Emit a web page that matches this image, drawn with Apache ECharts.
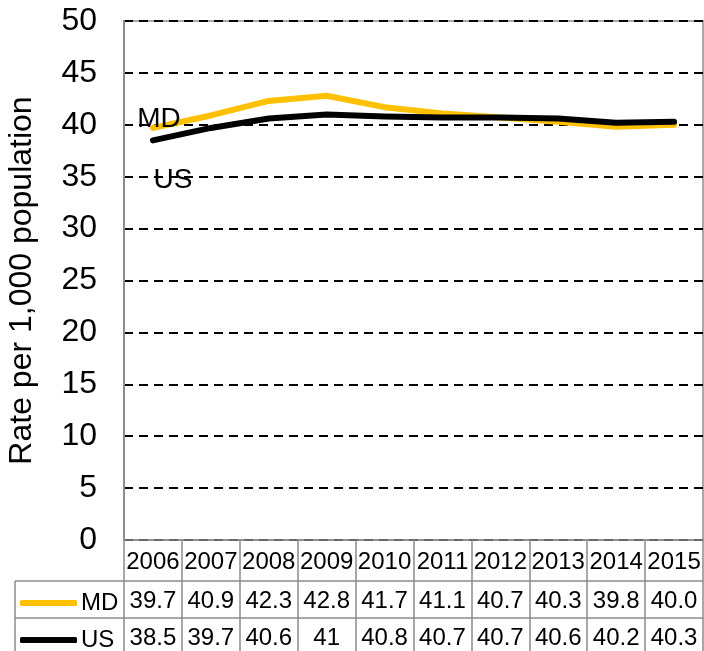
<!DOCTYPE html>
<html>
<head>
<meta charset="utf-8">
<script src="https://cdn.jsdelivr.net/npm/echarts@6/dist/echarts.min.js"></script>
<style>
  html, body { margin: 0; padding: 0; background: #fff; }
  #chart { width: 704px; height: 651px; }
</style>
</head>
<body>
<div id="chart"></div>
<script>
const years = ['2006', '2007', '2008', '2009', '2010', '2011', '2012', '2013', '2014', '2015'];
const mdRates = [39.7, 40.9, 42.3, 42.8, 41.7, 41.1, 40.7, 40.3, 39.8, 40.0];
const usRates = [38.5, 39.7, 40.6, 41, 40.8, 40.7, 40.7, 40.6, 40.2, 40.3];
const mdColor = '#FFC000';
const usColor = '#000000';
const border = '#8c8c8c';
const font = 'Liberation Sans, Arial, sans-serif';

const chart = echarts.init(document.getElementById('chart'));

// one x axis per table row: years, MD values, US values
function tableAxis(offset, rowHeight, margin, fmt) {
  return {
    type: 'category',
    data: years,
    position: 'bottom',
    offset: offset,
    boundaryGap: true,
    axisLine: { show: true, lineStyle: { color: border, width: 1.5 } },
    axisTick: { show: true, length: rowHeight, alignWithLabel: false, lineStyle: { color: border, width: 1.5 } },
    axisLabel: { margin: margin, fontSize: 24, color: '#000', fontFamily: font, interval: 0, formatter: fmt },
    splitLine: { show: false }
  };
}

const firstLabel = (offset) => ({
  show: true,
  position: 'inside',
  offset: offset,
  fontSize: 28,
  color: '#000',
  fontFamily: font,
  formatter: p => p.dataIndex === 0 ? p.seriesName : ''
});

const legendRow = (name, top) => ({
  data: [name], left: 15, top: top, orient: 'horizontal',
  icon: 'roundRect', itemWidth: 57, itemHeight: 6, itemGap: 4, selectedMode: false,
  textStyle: { fontSize: 24, color: '#000', fontFamily: font, padding: [0, 0, 0, -1] }
});

chart.setOption({
  animation: false,
  grid: {
    left: 124, top: 21, right: 1, bottom: 111,
    outerBoundsMode: 'none',
    containLabel: false,
    show: true, borderColor: border, borderWidth: 1.5
  },
  legend: [legendRow('MD', 586), legendRow('US', 623)],
  xAxis: [
    tableAxis(0, 41, 10, v => v),
    tableAxis(41, 37, 8, (v, i) => mdRates[i].toFixed(1)),
    tableAxis(78, 40, 8, (v, i) => String(usRates[i]))
  ],
  yAxis: {
    type: 'value',
    min: 0, max: 50, interval: 5,
    name: 'Rate per 1,000 population',
    nameLocation: 'middle',
    nameRotate: 90,
    nameGap: 86,
    nameTextStyle: { fontSize: 32, color: '#000', fontFamily: font },
    axisLine: { show: true, lineStyle: { color: border, width: 2 } },
    axisTick: { show: false },
    axisLabel: { margin: 27, fontSize: 32, color: '#000', fontFamily: font },
    splitLine: { show: true, lineStyle: { color: '#000', type: [9, 6], width: 1.8 } }
  },
  series: [
    {
      name: 'MD', type: 'line', data: mdRates, xAxisIndex: 0,
      color: mdColor, symbol: 'circle', symbolSize: 1,
      lineStyle: { width: 6, cap: 'round', join: 'round' },
      label: firstLabel([6, -9]),
      z: 2
    },
    {
      name: 'US', type: 'line', data: usRates, xAxisIndex: 0,
      color: usColor, symbol: 'circle', symbolSize: 1,
      lineStyle: { width: 6, cap: 'round', join: 'round' },
      label: firstLabel([20, 40]),
      z: 3
    }
  ],
  graphic: [
    { type: 'line', shape: { x1: 15, y1: 581, x2: 124, y2: 581 }, style: { stroke: border, lineWidth: 1.5 } },
    { type: 'line', shape: { x1: 15, y1: 618, x2: 124, y2: 618 }, style: { stroke: border, lineWidth: 1.5 } },
    { type: 'line', shape: { x1: 15, y1: 581, x2: 15, y2: 651 }, style: { stroke: border, lineWidth: 1.5 } }
  ]
});
</script>
</body>
</html>
